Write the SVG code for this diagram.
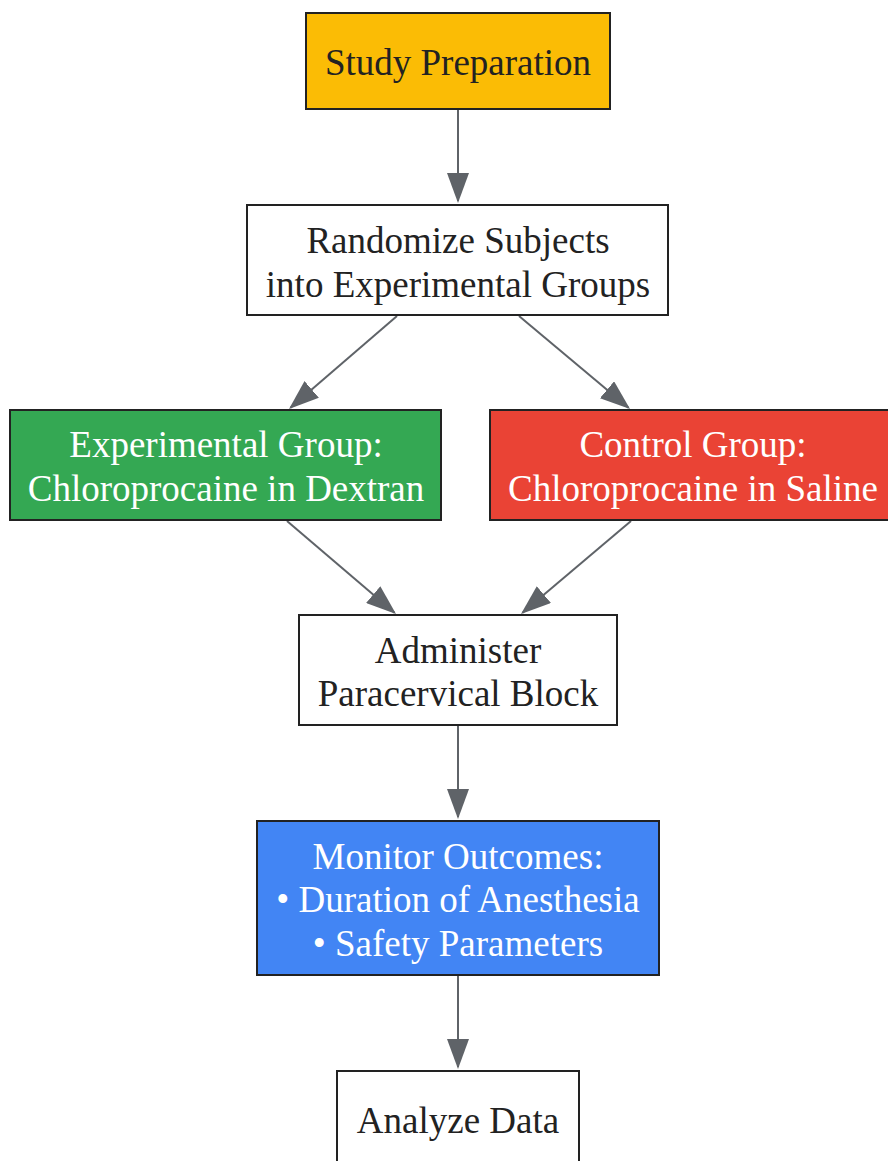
<svg xmlns="http://www.w3.org/2000/svg" width="888" height="1161" viewBox="0 0 888 1161">
<style>
.box{stroke:#222222;stroke-width:2}
.t{font-family:"Liberation Serif","Times New Roman",serif;font-size:37px;text-anchor:middle;fill:#222222}
.w{fill:#ffffff}
.edge{stroke:#5f6368;stroke-width:2;fill:none;marker-end:url(#ah)}
</style>
<defs>
<marker id="ah" markerUnits="userSpaceOnUse" viewBox="0 0 30 22" refX="28" refY="11" markerWidth="30" markerHeight="22" orient="auto">
<path d="M0,0 L30,11 L0,22 z" fill="#5f6368"/>
</marker>
</defs>
<rect width="888" height="1161" fill="#ffffff"/>
<g id="connectors">
<line class="edge" x1="458" y1="110" x2="458" y2="201"/>
<line class="edge" x1="397" y1="316" x2="290.5" y2="407.7"/>
<line class="edge" x1="519" y1="316" x2="628.5" y2="407.7"/>
<line class="edge" x1="287" y1="521" x2="394.5" y2="612.7"/>
<line class="edge" x1="631" y1="521" x2="522.5" y2="612.7"/>
<line class="edge" x1="458" y1="726" x2="458" y2="817"/>
<line class="edge" x1="458" y1="976" x2="458" y2="1067"/>
</g>
<g id="study">
<rect class="box" x="306" y="13" width="304" height="96" fill="#fbbc05"/>
<text class="t" x="458" y="75">Study Preparation</text>
</g>
<g id="randomize">
<rect class="box" x="247" y="205" width="421" height="110" fill="#ffffff"/>
<text class="t" x="458" y="253">Randomize Subjects</text>
<text class="t" x="458" y="297">into Experimental Groups</text>
</g>
<g id="experimental">
<rect class="box" x="10" y="410" width="431" height="110" fill="#34a853"/>
<text class="t w" x="226" y="457">Experimental Group:</text>
<text class="t w" x="226" y="501">Chloroprocaine in Dextran</text>
</g>
<g id="control">
<rect class="box" x="490" y="410" width="406" height="110" fill="#ea4335"/>
<text class="t w" x="693" y="457">Control Group:</text>
<text class="t w" x="693" y="501">Chloroprocaine in Saline</text>
</g>
<g id="administer">
<rect class="box" x="299" y="615" width="318" height="110" fill="#ffffff"/>
<text class="t" x="458" y="663">Administer</text>
<text class="t" x="458" y="706">Paracervical Block</text>
</g>
<g id="monitor">
<rect class="box" x="257" y="821" width="402" height="154" fill="#4285f4"/>
<text class="t w" x="458" y="869">Monitor Outcomes:</text>
<text class="t w" x="458" y="912">• Duration of Anesthesia</text>
<text class="t w" x="458" y="956">• Safety Parameters</text>
</g>
<g id="analyze">
<rect class="box" x="337" y="1071" width="242" height="110" fill="#ffffff"/>
<text class="t" x="458" y="1133">Analyze Data</text>
</g>
</svg>
